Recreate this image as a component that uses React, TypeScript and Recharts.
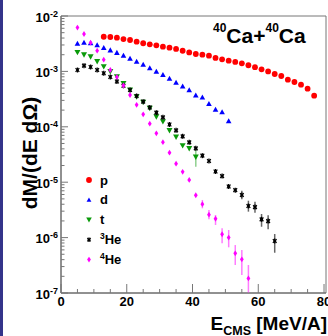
import React from 'react';
import { ScatterChart, Scatter, XAxis, YAxis, ErrorBar, Legend, ReferenceArea } from 'recharts';

// ---- data (E in MeV/A, yields dM/(dE dOmega)) ----
const pE = [13, 15, 17, 19, 21, 23, 25, 27, 29, 31, 33, 35, 37, 39, 41, 43, 45, 47, 49, 51, 53, 55, 57, 59, 61, 63, 65, 67, 69, 71, 73, 75, 77];
const pY = [4.22e-3, 4.18e-3, 4.06e-3, 3.84e-3, 3.69e-3, 3.44e-3, 3.22e-3, 3.08e-3, 2.96e-3, 2.79e-3, 2.68e-3, 2.54e-3, 2.36e-3, 2.2e-3, 2.06e-3, 2.0e-3, 1.92e-3, 1.75e-3, 1.65e-3, 1.56e-3, 1.48e-3, 1.4e-3, 1.29e-3, 1.19e-3, 1.09e-3, 1.0e-3, 8.98e-4, 8.26e-4, 7.08e-4, 6.44e-4, 5.75e-4, 4.88e-4, 3.64e-4];

const dE = [5, 7, 9, 11, 13, 15, 17, 19, 21, 23, 25, 27, 29, 31, 33, 35, 37, 39, 41, 43, 45, 47, 49, 51];
const dY = [3.19e-3, 3.33e-3, 3.26e-3, 3.0e-3, 2.68e-3, 2.42e-3, 2.18e-3, 1.94e-3, 1.71e-3, 1.51e-3, 1.33e-3, 1.15e-3, 9.96e-4, 8.72e-4, 7.45e-4, 6.31e-4, 5.39e-4, 4.62e-4, 3.71e-4, 3.41e-4, 2.61e-4, 2.05e-4, 1.85e-4, 1.27e-4];

const tE = [5, 7, 9, 11, 13, 15, 17, 19, 21, 23, 25, 27, 29, 31, 33, 35, 37, 39, 41];
const tY = [2.21e-3, 2.0e-3, 1.84e-3, 1.51e-3, 1.22e-3, 9.96e-4, 8.02e-4, 6.09e-4, 4.62e-4, 3.49e-4, 2.8e-4, 2.16e-4, 1.52e-4, 1.24e-4, 8.57e-5, 6.54e-5, 4.59e-5, 4.06e-5, 2.85e-5];
const tLo = [null, null, null, null, null, null, null, null, null, null, null, null, null, null, null, null, null, null, 1.91e-5];
const tHi = [null, null, null, null, null, null, null, null, null, null, null, null, null, null, null, null, null, null, 3.81e-5];

const he3E = [5, 7, 9, 11, 13, 15, 17, 19, 21, 23, 25, 27, 29, 31, 33, 35, 37, 39, 41, 43, 45, 47, 49, 51, 53, 55, 57, 59, 61, 63, 65];
const he3Y = [1.06e-3, 1.27e-3, 1.2e-3, 1.06e-3, 9.25e-4, 7.93e-4, 6.57e-4, 5.5e-4, 4.62e-4, 3.6e-4, 2.84e-4, 2.23e-4, 1.8e-4, 1.48e-4, 1.1e-4, 8.62e-5, 6.73e-5, 5.25e-5, 4.09e-5, 3.01e-5, 2.41e-5, 1.56e-5, 1.29e-5, 8.36e-6, 7.17e-6, 5.87e-6, 3.72e-6, 3.56e-6, 2.14e-6, 1.99e-6, 8.68e-7];
const he3Lo = [null, null, null, null, null, null, null, null, null, null, null, null, null, null, null, null, null, null, null, null, null, null, null, null, null, 4.91e-6, 2.94e-6, 2.81e-6, 1.57e-6, 1.41e-6, 5.33e-7];
const he3Hi = [null, null, null, null, null, null, null, null, null, null, null, null, null, null, null, null, null, null, null, null, null, null, null, null, null, 7.03e-6, 4.63e-6, 4.45e-6, 2.67e-6, 2.53e-6, 1.16e-6];

const he4E = [5, 7, 9, 11, 13, 15, 17, 19, 21, 23, 25, 27, 29, 31, 33, 35, 37, 39, 41, 43, 45, 47, 49, 51, 53, 55, 57];
const he4Y = [6.19e-3, 4.73e-3, 3.3e-3, 2.37e-3, 1.63e-3, 1.06e-3, 7.93e-4, 5.56e-4, 3.75e-4, 2.49e-4, 1.68e-4, 1.14e-4, 7.64e-5, 5.27e-5, 3.41e-5, 2.16e-5, 1.54e-5, 1.1e-5, 5.81e-6, 4.01e-6, 2.59e-6, 2.19e-6, 1.15e-6, 1.0e-6, 5.21e-7, 4.06e-7, 1.83e-7];
const he4Lo = [null, null, null, null, null, null, null, null, null, null, null, null, null, null, null, null, null, null, null, 3.38e-6, 2.14e-6, 1.69e-6, 7.88e-7, 6.68e-7, 3.2e-7, 2.11e-7, 1.0e-7];
const he4Hi = [null, null, null, null, null, null, null, null, null, null, null, null, null, null, null, null, null, null, null, 4.78e-6, 3.15e-6, 2.56e-6, 1.47e-6, 1.37e-6, 7.34e-7, 5.97e-7, 3.2e-7];

const xTicks = [0, 5, 10, 15, 20, 25, 30, 35, 40, 45, 50, 55, 60, 65, 70, 75, 80];
const yDecades = [-7, -6, -5, -4, -3];
const legendItems = ['p', 'd', 't', '3He', '4He'];

// ---- helpers ----
type Pt = { x: number; y: number; err?: number[] };
const build = (xs: number[], ys: number[], lo?: (number | null)[], hi?: (number | null)[]): Pt[] =>
  xs.map((x, i) => {
    const pt: Pt = { x, y: ys[i] };
    if (lo && hi && lo[i] != null && hi[i] != null) {
      pt.err = [ys[i] - (lo[i] as number), (hi[i] as number) - ys[i]];
    }
    return pt;
  });

const pData = build(pE, pY);
const dData = build(dE, dY);
const tData = build(tE, tY, tLo, tHi);
const he3Data = build(he3E, he3Y, he3Lo, he3Hi);
const he4Data = build(he4E, he4Y, he4Lo, he4Hi);

const yTicks: number[] = [];
yDecades.forEach((d) => {
  for (let k = 1; k <= 9; k++) yTicks.push(k * Math.pow(10, d));
});
yTicks.push(1e-2);

const RED = '#ff0000';
const BLUE = '#0000ff';
const GREEN = '#0a9a0a';
const BLACK = '#000000';
const MAGENTA = '#ff00ff';

const CircleM = ({ cx, cy, r = 2.9 }: any) => <circle cx={cx} cy={cy} r={r} fill={RED} />;
const TriUpM = ({ cx, cy, s = 2.8 }: any) => (
  <polygon points={`${cx},${cy - s} ${cx + s},${cy + s * 0.8} ${cx - s},${cy + s * 0.8}`} fill={BLUE} />
);
const TriDownM = ({ cx, cy, s = 3 }: any) => (
  <polygon points={`${cx - s},${cy - s * 0.8} ${cx + s},${cy - s * 0.8} ${cx},${cy + s}`} fill={GREEN} />
);
const StarM = ({ cx, cy, r = 2.5 }: any) => {
  const d = r * 0.75;
  return (
    <g stroke={BLACK} strokeWidth={1.3}>
      <line x1={cx} y1={cy - r} x2={cx} y2={cy + r} />
      <line x1={cx - d} y1={cy - d} x2={cx + d} y2={cy + d} />
      <line x1={cx - d} y1={cy + d} x2={cx + d} y2={cy - d} />
      <line x1={cx - r * 0.6} y1={cy} x2={cx + r * 0.6} y2={cy} />
    </g>
  );
};
const DiamondM = ({ cx, cy }: any) => (
  <polygon points={`${cx},${cy - 2.9} ${cx + 1.9},${cy} ${cx},${cy + 2.9} ${cx - 1.9},${cy}`} fill={MAGENTA} />
);

const TICK = '#777';
const FONT = '"Liberation Sans", Arial, Helvetica, sans-serif';

const YTick = (props: any) => {
  const { x, y, payload } = props;
  const v = payload.value as number;
  const lg = Math.log10(v);
  const e = Math.round(lg);
  const major = Math.abs(lg - e) < 1e-6;
  return (
    <g>
      <line x1={x} x2={x + (major ? 7 : 3.5)} y1={y} y2={y} stroke={TICK} strokeWidth={1} />
      {major && (
        <text fontFamily={FONT} fontWeight="bold" fill="#000">
          <tspan x={x - 11} y={y + 5.5} fontSize={13} textAnchor="end">10</tspan>
          <tspan x={x - 11} y={y + 0.5} fontSize={9} textAnchor="start">{String(e).replace('-', '-')}</tspan>
        </text>
      )}
    </g>
  );
};

const XTick = (props: any) => {
  const { x, y, payload } = props;
  const v = payload.value as number;
  const major = v % 20 === 0;
  return (
    <g>
      <line x1={x} x2={x} y1={y} y2={y - (major ? 9 : 4)} stroke={TICK} strokeWidth={1} />
      {major && (
        <text x={x} y={y + 13} textAnchor="middle" fontFamily={FONT} fontWeight="bold" fontSize={13} fill="#000">
          {v}
        </text>
      )}
    </g>
  );
};

const legendMarkers = [
  (cx: number, cy: number) => <CircleM cx={cx} cy={cy} />,
  (cx: number, cy: number) => <TriUpM cx={cx} cy={cy} s={2.4} />,
  (cx: number, cy: number) => <TriDownM cx={cx} cy={cy} s={2.8} />,
  (cx: number, cy: number) => <StarM cx={cx} cy={cy} r={2.2} />,
  (cx: number, cy: number) => <DiamondM cx={cx} cy={cy} />,
];

const LegendBox = () => (
  <svg width={60} height={100} style={{ display: 'block', overflow: 'visible' }}>
    {legendItems.map((name, i) => {
      const cy = 10 + i * 19.9;
      const m = name.match(/^(\d+)(.*)$/);
      return (
        <g key={name}>
          {legendMarkers[i](9, cy)}
          <text x={20} y={cy + 4.5} fontFamily={FONT} fontWeight="bold" fontSize={13} fill="#000">
            {m ? (
              <>
                <tspan fontSize={8.5} dy={-5}>{m[1]}</tspan>
                <tspan dy={5}>{m[2]}</tspan>
              </>
            ) : (
              name
            )}
          </text>
        </g>
      );
    })}
  </svg>
);

export default function App() {
  return (
    <div style={{ position: 'fixed', left: 0, top: 0, width: 328, height: 336, background: '#fff', overflow: 'hidden' }}>
      <div style={{ position: 'absolute', left: 0, top: 0, width: 3, height: 336, background: '#34348a' }} />
      <ScatterChart width={328} height={336} margin={{ top: 16, right: 2, left: 0, bottom: 0 }}>
        <XAxis
          type="number"
          dataKey="x"
          domain={[0, 80.6]}
          ticks={xTicks}
          interval={0}
          height={43}
          tickSize={0}
          tickMargin={0}
          tickLine={false}
          tick={(p: any) => <XTick {...p} />}
          axisLine={{ stroke: '#666' }}
          allowDataOverflow
        />
        <YAxis
          type="number"
          dataKey="y"
          scale="log"
          domain={[1e-7, 1e-2]}
          ticks={yTicks}
          interval={0}
          width={61}
          tickSize={0}
          tickMargin={0}
          tickLine={false}
          tick={(p: any) => <YTick {...p} />}
          axisLine={{ stroke: '#666' }}
          allowDataOverflow
        />
        <ReferenceArea x1={0} x2={80.6} y1={1e-7} y2={1e-2} fill="none" stroke="#777" strokeWidth={1} ifOverflow="visible" />
        <Scatter name="p" data={pData} isAnimationActive={false} shape={(p: any) => <CircleM cx={p.cx} cy={p.cy} />} />
        <Scatter name="d" data={dData} isAnimationActive={false} shape={(p: any) => <TriUpM cx={p.cx} cy={p.cy} />} />
        <Scatter name="t" data={tData} isAnimationActive={false} shape={(p: any) => <TriDownM cx={p.cx} cy={p.cy} />}>
          <ErrorBar dataKey="err" direction="y" width={0} stroke="#8fd08f" strokeWidth={1.5} />
        </Scatter>
        <Scatter name="3He" data={he3Data} isAnimationActive={false} shape={(p: any) => <StarM cx={p.cx} cy={p.cy} />}>
          <ErrorBar dataKey="err" direction="y" width={0} stroke="#666" strokeWidth={1.5} />
        </Scatter>
        <Scatter name="4He" data={he4Data} isAnimationActive={false} shape={(p: any) => <DiamondM cx={p.cx} cy={p.cy} />}>
          <ErrorBar dataKey="err" direction="y" width={0} stroke="#ff7cff" strokeWidth={1.5} />
        </Scatter>
        <Legend
          layout="horizontal"
          verticalAlign="middle"
          align="center"
          content={() => <LegendBox />}
          wrapperStyle={{ left: 80, top: 170, width: 60, height: 100 }}
        />
      </ScatterChart>
      <svg width={328} height={336} style={{ position: 'absolute', left: 0, top: 0, pointerEvents: 'none' }}>
        <text x={213} y={43} fontFamily={FONT} fontWeight="bold" fill="#000">
          <tspan fontSize={12} dy={-11}>40</tspan>
          <tspan fontSize={21} dy={11}>Ca+</tspan>
          <tspan fontSize={12} dy={-11}>40</tspan>
          <tspan fontSize={21} dy={11}>Ca</tspan>
        </text>
        <text transform="translate(37,153) rotate(-90)" textAnchor="middle" fontFamily={FONT} fontWeight="bold" fontSize={21} fill="#000">
          dM/(dE dΩ)
        </text>
        <text x={327} y={330} textAnchor="end" fontFamily={FONT} fontWeight="bold" fontSize={19} fill="#000">
          E<tspan fontSize={12.5} dy={5}>CMS</tspan>
          <tspan dy={-5}> [MeV/A]</tspan>
        </text>
      </svg>
    </div>
  );
}
